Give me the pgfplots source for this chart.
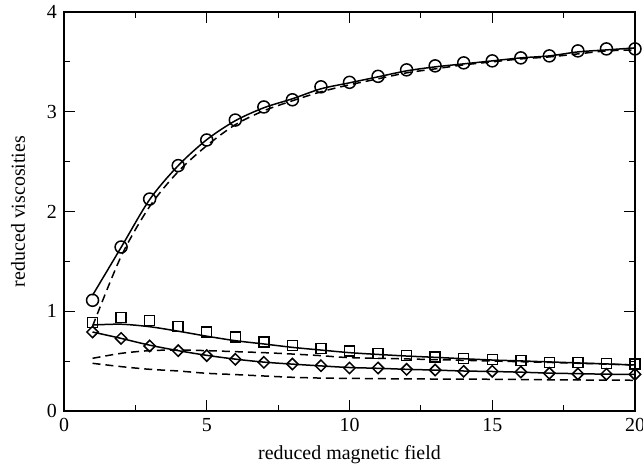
\documentclass[border=0pt]{standalone}
\usepackage{fontspec}
\setmainfont{Liberation Serif}
\usepackage{pgfplots}
\pgfplotsset{compat=1.18}

\begin{document}
\begin{tikzpicture}
\begin{axis}[
  scale only axis,
  width=285.5bp, height=199.5bp,
  xmin=0, xmax=20, ymin=0, ymax=4,
  xtick={0,5,10,15,20}, ytick={0,1,2,3,4},
  minor x tick num=1, minor y tick num=1,
  major tick length=5.5bp, minor tick length=3bp,
  tick align=inside,
  tick style={black, line width=0.6bp},
  axis line style={line width=0.7bp},
  /pgf/number format/assume math mode=true,
  xlabel={reduced magnetic field},
  ylabel={reduced viscosities},
  every axis x label/.style={at={([yshift=-22bp]axis description cs:0.5,0)}, anchor=center},
  every axis y label/.style={at={([xshift=-23bp]axis description cs:0,0.5)}, rotate=90, anchor=center},
  clip=false,
  every axis plot/.append style={line width=0.75bp},
]
% solid line, top
\addplot[black, smooth, no marks] coordinates {
 (1,1.16) (2,1.64) (3,2.12) (4,2.46) (5,2.72) (6,2.91) (7,3.04) (8,3.13)
 (9,3.23) (10,3.29) (11,3.35) (12,3.41) (13,3.45) (14,3.48) (15,3.51)
 (16,3.54) (17,3.56) (18,3.60) (19,3.62) (20,3.64)};
% dashed line, top
\addplot[black, smooth, no marks, dash pattern=on 4bp off 2.5bp] coordinates {
 (1,0.85) (2,1.55) (3,2.05) (4,2.40) (5,2.66) (6,2.87) (7,3.01) (8,3.11)
 (9,3.20) (10,3.27) (11,3.33) (12,3.39) (13,3.43) (14,3.47) (15,3.50)
 (16,3.53) (17,3.55) (18,3.58) (19,3.61) (20,3.62)};
% circles
\addplot[black, only marks, mark=o, mark size=3bp] coordinates {
 (1,1.11) (2,1.644) (3,2.125) (4,2.46) (5,2.717) (6,2.917) (7,3.048) (8,3.12)
 (9,3.25) (10,3.295) (11,3.355) (12,3.42) (13,3.46) (14,3.49) (15,3.51)
 (16,3.54) (17,3.56) (18,3.61) (19,3.63) (20,3.63)};
% solid line near squares
\addplot[black, smooth, no marks] coordinates {
 (1,0.862) (2,0.87) (3,0.845) (4,0.80) (5,0.75) (6,0.705) (7,0.672) (8,0.638)
 (9,0.611) (10,0.585) (11,0.567) (12,0.551) (13,0.538) (14,0.524) (15,0.511)
 (16,0.502) (17,0.492) (18,0.482) (19,0.472) (20,0.461)};
% squares
\addplot[black, only marks, mark=square, mark size=2.5bp] coordinates {
 (1,0.885) (2,0.935) (3,0.909) (4,0.845) (5,0.792) (6,0.742) (7,0.692) (8,0.658)
 (9,0.625) (10,0.60) (11,0.578) (12,0.558) (13,0.541) (14,0.524) (15,0.518)
 (16,0.508) (17,0.488) (18,0.485) (19,0.474) (20,0.471)};
% solid line through diamonds
\addplot[black, smooth, no marks] coordinates {
 (1,0.792) (2,0.728) (3,0.660) (4,0.605) (5,0.558) (6,0.520) (7,0.490) (8,0.470)
 (9,0.452) (10,0.436) (11,0.428) (12,0.418) (13,0.410) (14,0.401) (15,0.396)
 (16,0.389) (17,0.380) (18,0.374) (19,0.369) (20,0.366)};
% diamonds
\addplot[black, only marks, mark=square, mark size=2bp, mark options={rotate=45}] coordinates {
 (1,0.792) (2,0.728) (3,0.652) (4,0.605) (5,0.555) (6,0.518) (7,0.488) (8,0.471)
 (9,0.454) (10,0.431) (11,0.431) (12,0.418) (13,0.411) (14,0.398) (15,0.398)
 (16,0.391) (17,0.378) (18,0.371) (19,0.368) (20,0.368)};
% dashed, upper of the lower pair
\addplot[black, smooth, no marks, dash pattern=on 4bp off 2.5bp] coordinates {
 (1,0.528) (2,0.578) (3,0.605) (4,0.611) (5,0.605) (6,0.595) (7,0.585) (8,0.571)
 (9,0.555) (10,0.535) (12,0.522) (15,0.501) (17,0.487) (20,0.461)};
% dashed, lowest
\addplot[black, smooth, no marks, dash pattern=on 4bp off 2.5bp] coordinates {
 (1,0.478) (2,0.445) (3,0.418) (4,0.401) (5,0.378) (6,0.365) (7,0.351) (8,0.338)
 (9,0.330) (10,0.327) (12,0.322) (15,0.318) (17,0.313) (20,0.308)};
\end{axis}
\pgfresetboundingbox
\useasboundingbox (-32bp,-30bp) rectangle (289.5bp,205.5bp);
\end{tikzpicture}
\end{document}
